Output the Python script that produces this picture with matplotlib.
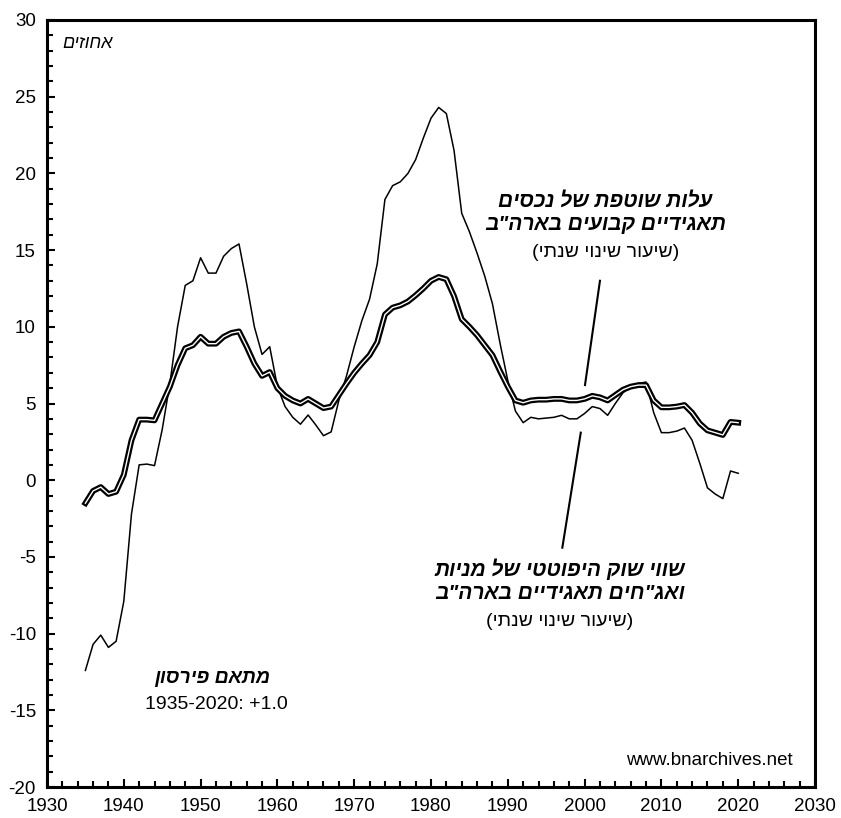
import matplotlib
matplotlib.use("Agg")
import matplotlib.pyplot as plt
from matplotlib.ticker import MultipleLocator

plt.rcParams['font.family'] = ['Liberation Sans', 'DejaVu Sans']
plt.rcParams['axes.unicode_minus'] = False

years = list(range(1935, 2021))

# current cost of fixed corporate assets (double line), annual % change
assets = [-1.5, -0.7, -0.45, -0.9, -0.75, 0.35, 2.6, 3.95, 3.95, 3.9,
          5.0, 6.1, 7.5, 8.6, 8.8, 9.35, 8.9, 8.9, 9.35, 9.6,
          9.7, 8.7, 7.6, 6.8, 7.05, 6.0, 5.5, 5.2, 5.0, 5.3,
          5.0, 4.7, 4.8, 5.55, 6.3, 7.0, 7.6, 8.15, 9.0, 10.8,
          11.25, 11.4, 11.65, 12.05, 12.5, 13.0, 13.25, 13.1, 12.0, 10.5,
          10.0, 9.45, 8.8, 8.15, 7.1, 6.1, 5.2, 5.05, 5.2, 5.25,
          5.25, 5.3, 5.3, 5.2, 5.2, 5.3, 5.5, 5.4, 5.2, 5.55,
          5.9, 6.1, 6.2, 6.2, 5.2, 4.75, 4.75, 4.8, 4.9, 4.4,
          3.7, 3.25, 3.1, 2.95, 3.8, 3.75]

# hypothetical market value of corporate stocks and bonds (thin line)
market = [-12.4, -10.7, -10.1, -10.9, -10.5, -7.9, -2.2, 1.0, 1.05, 0.95,
          3.3, 6.3, 10.0, 12.7, 13.0, 14.5, 13.5, 13.5, 14.6, 15.1,
          15.4, 12.8, 10.0, 8.2, 8.7, 6.1, 4.8, 4.1, 3.65, 4.25,
          3.6, 2.9, 3.15, 5.2, 6.8, 8.7, 10.4, 11.8, 14.1, 18.3,
          19.2, 19.45, 20.0, 20.9, 22.3, 23.6, 24.3, 23.9, 21.5, 17.4,
          16.2, 14.8, 13.3, 11.5, 8.9, 6.5, 4.5, 3.75, 4.1, 4.0,
          4.05, 4.1, 4.23, 4.0, 4.0, 4.35, 4.8, 4.67, 4.23, 5.0,
          5.7, 6.1, 6.3, 6.4, 4.4, 3.1, 3.1, 3.2, 3.4, 2.6,
          1.1, -0.5, -0.9, -1.2, 0.6, 0.45]

label_assets = ["עלות שוטפת של נכסים", 'תאגידיים קבועים בארה"ב', "(שיעור שינוי שנתי)"]
label_market = ["שווי שוק היפוטטי של מניות", 'ואג"חים תאגידיים בארה"ב', "(שיעור שינוי שנתי)"]
corr_title = "מתאם פירסון"
corr_text = "1935-2020: +1.0"
units = "אחוזים"
source = "www.bnarchives.net"


def heb(s):
    # matplotlib has no bidi: reverse to visual order and mirror brackets
    return s[::-1].translate(str.maketrans('()', ')('))


fig = plt.figure(figsize=(8.41, 8.18), dpi=100)
ax = fig.add_axes([47 / 841, 31 / 818, 768 / 841, 767 / 818])

ax.plot(years, market, color='black', lw=1.1, zorder=2)
ax.plot(years, assets, color='black', lw=4.2, zorder=3)
ax.plot(years, assets, color='white', lw=1.0, zorder=4)

ax.set_xlim(1930, 2030)
ax.set_ylim(-20, 30)
ax.xaxis.set_major_locator(MultipleLocator(10))
ax.xaxis.set_minor_locator(MultipleLocator(2))
ax.yaxis.set_major_locator(MultipleLocator(5))
ax.yaxis.set_minor_locator(MultipleLocator(1))
ax.tick_params(which='both', direction='in', width=1.5, labelsize=13.5, top=False, right=False)
ax.tick_params(which='major', length=6, pad=8)
ax.tick_params(which='minor', length=4)
for sp in ax.spines.values():
    sp.set_linewidth(2.2)

# pointer lines
ax.plot([2002.0, 2000.05], [13.0, 6.2], color='black', lw=1.5, zorder=5)
ax.plot([1999.5, 1997.1], [3.1, -4.4], color='black', lw=1.5, zorder=5)

bi = dict(fontsize=15, fontweight='bold', style='italic', ha='center', va='center')
ax.text(2002.7, 18.2, heb(label_assets[0]), **bi)
ax.text(2002.7, 16.65, heb(label_assets[1]), **bi)
ax.text(2002.7, 14.85, heb(label_assets[2]), fontsize=14, ha='center', va='center')

ax.text(1996.8, -5.8, heb(label_market[0]), **bi)
ax.text(1996.8, -7.4, heb(label_market[1]), **bi)
ax.text(1996.8, -9.2, heb(label_market[2]), fontsize=14, ha='center', va='center')

ax.text(1951.5, -12.9, heb(corr_title), fontsize=14, fontweight='bold', style='italic',
        ha='center', va='center')
ax.text(1952.1, -14.6, corr_text, fontsize=14, ha='center', va='center')

ax.text(1932.0, 28.5, heb(units), fontsize=13, style='italic', ha='left', va='center')
ax.text(2027.1, -18.3, source, fontsize=13.5, ha='right', va='center')

fig.savefig('out.png', dpi=100)
